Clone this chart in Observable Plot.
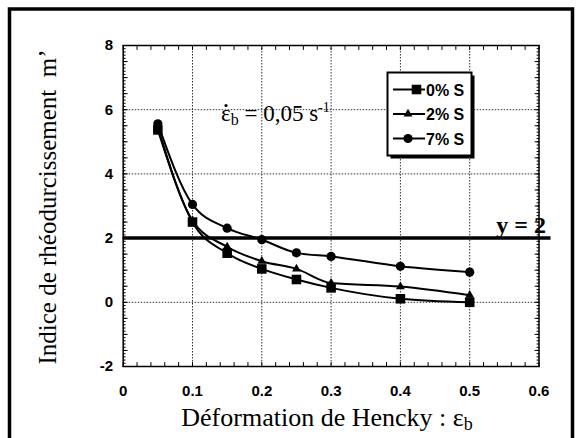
<!DOCTYPE html>
<html><head><meta charset="utf-8">
<script src="https://cdn.jsdelivr.net/npm/d3@7"></script>
<script src="https://cdn.jsdelivr.net/npm/@observablehq/plot@0.6"></script>
<style>
body{margin:0;background:#fff;}
#chart{position:relative;width:576px;height:438px;overflow:hidden;background:#fff}
</style>
</head><body><div id="chart"></div>
<script>
// ---- data ----
const strain = [0.05, 0.1, 0.15, 0.2, 0.25, 0.3, 0.4, 0.5];
const s0 = [5.37, 2.5, 1.53, 1.04, 0.71, 0.45, 0.11, 0.0];
const s2 = [5.45, 2.55, 1.73, 1.28, 1.04, 0.6, 0.49, 0.22];
const s7 = [5.56, 3.05, 2.31, 1.95, 1.54, 1.43, 1.12, 0.94];
const seriesNames = ["0% S", "2% S", "7% S"];
const seriesSymbols = ["square", "triangle", "circle"];
const xTicks = [0, 0.1, 0.2, 0.3, 0.4, 0.5, 0.6];
const yTicks = [-2, 0, 2, 4, 6, 8];
const threshold = 2;
const rateLabel = "0,05";

const serif = "'Liberation Serif','Times New Roman',serif";
const sans = "'Liberation Sans',Arial,sans-serif";

const values = [s0, s2, s7];
const rows = seriesNames.flatMap((s, k) => strain.map((x, i) => ({x, y: values[k][i], s})));

const xMinor = d3.range(0, 0.6001, 0.02);
const yMinor = d3.range(-2, 8.001, 0.5);
const yFine = d3.range(-2, 8.001, 0.1);
const tickShape = {draw(ctx, l) { ctx.moveTo(0, 0); ctx.lineTo(0, -l); }};
const tk = (data, opts) => Plot.vector(data, {anchor: "start", shape: tickShape, stroke: "black", strokeWidth: 1, ...opts});

const dotR = {"0% S": 5.4, "2% S": 3.3, "7% S": 4.6};

const chart = Plot.plot({
  width: 576, height: 438,
  marginLeft: 122.7, marginRight: 37.5, marginTop: 45, marginBottom: 72,
  x: {domain: [0, 0.6]},
  y: {domain: [-2, 8]},
  symbol: {domain: seriesNames, range: seriesSymbols},
  style: {background: "transparent", overflow: "visible"},
  marks: [
    Plot.ruleX(xTicks.filter(d => d > 0 && d < 0.6), {stroke: "#333", strokeDasharray: "1.5,1.5", strokeWidth: 1}),
    Plot.ruleY(yTicks.filter(d => d > -2 && d < 8), {stroke: "#333", strokeDasharray: "1.5,1.5", strokeWidth: 1}),
    tk(xMinor, {x: d => d, frameAnchor: "bottom", rotate: 0, length: 4}),
    tk(xMinor, {x: d => d, frameAnchor: "top", rotate: 180, length: 4}),
    tk(yMinor, {y: d => d, frameAnchor: "left", rotate: 90, length: 4}),
    tk(yMinor, {y: d => d, frameAnchor: "right", rotate: -90, length: 4}),
    tk(yFine, {y: d => d, frameAnchor: "left", rotate: 90, length: 2}),
    tk(yFine, {y: d => d, frameAnchor: "right", rotate: -90, length: 2}),
    Plot.frame({stroke: "black", strokeWidth: 1.5}),
    Plot.axisX(xTicks, {anchor: "bottom", tickSize: 0, tickPadding: 19, label: null,
      tickFormat: d => d === 0 ? "0" : d.toFixed(1), fontSize: 15, fontWeight: "bold", fontFamily: sans}),
    Plot.axisY(yTicks, {anchor: "left", tickSize: 0, tickPadding: 10, label: null,
      tickFormat: d => String(d), fontSize: 15, fontWeight: "bold", fontFamily: sans}),
    Plot.ruleY([threshold], {stroke: "black", strokeWidth: 3.5, insetRight: -12}),
    Plot.text([threshold], {y: d => d, frameAnchor: "right", text: d => `y = ${d}`, textAnchor: "end",
      lineAnchor: "bottom", dx: 7, dy: -5, fontFamily: serif, fontWeight: "bold", fontSize: 24, fill: "black"}),
    Plot.line(rows, {x: "x", y: "y", z: "s", curve: "monotone-x", stroke: "black", strokeWidth: 2}),
    ...seriesNames.map(s => Plot.dot(rows.filter(d => d.s === s), {x: "x", y: "y", symbol: "s", r: dotR[s], fill: "black", stroke: "none"}))
  ]
});

const svg = d3.select(chart);
// outer figure border
svg.append("path").attr("d", "M9.5,448 V9 H572.5 V448").attr("fill", "none").attr("stroke", "black").attr("stroke-width", 3.5);

// y title
svg.append("text").attr("transform", "translate(56,207) rotate(-90)").attr("text-anchor", "middle")
  .attr("font-family", serif).attr("font-size", 25).attr("fill", "black")
  .text("Indice de rhéodurcissement  m’");

// x title
const xt = svg.append("text").attr("x", 327).attr("y", 426).attr("text-anchor", "middle")
  .attr("font-family", serif).attr("font-size", 26).attr("fill", "black");
xt.append("tspan").text("Déformation de Hencky : ε");
xt.append("tspan").attr("font-size", 18).attr("dy", 4).text("b");

// rate annotation (time-derivative dot drawn as a small circle above ε)
const an = svg.append("text").attr("x", 221).attr("y", 121).attr("text-anchor", "start")
  .attr("font-family", serif).attr("font-size", 23).attr("fill", "black");
an.append("tspan").text("ε");
an.append("tspan").attr("font-size", 16).attr("dy", 4).text("b");
an.append("tspan").attr("dy", -4).text(` = ${rateLabel} s`);
an.append("tspan").attr("font-size", 14).attr("dy", -9).text("-1");
svg.append("circle").attr("cx", 226).attr("cy", 105.5).attr("r", 1.6).attr("fill", "black");

// legend
const lg = svg.append("g").attr("text-anchor", "start");
lg.append("rect").attr("x", 390.5).attr("y", 75.5).attr("width", 84).attr("height", 83).attr("fill", "black");
lg.append("rect").attr("x", 387.5).attr("y", 72.5).attr("width", 84).attr("height", 83).attr("fill", "white").attr("stroke", "black").attr("stroke-width", 2);
const legY = [89.5, 114, 138.5];
const legMarkX = [416.5, 408, 408];
seriesNames.forEach((s, i) => {
  lg.append("line").attr("x1", 393).attr("x2", 425).attr("y1", legY[i]).attr("y2", legY[i]).attr("stroke", "black").attr("stroke-width", 2);
  const size = Math.PI * dotR[s] * dotR[s];
  const sym = {square: d3.symbolSquare, triangle: d3.symbolTriangle, circle: d3.symbolCircle}[seriesSymbols[i]];
  lg.append("path").attr("transform", `translate(${legMarkX[i]},${legY[i]})`).attr("d", d3.symbol(sym, size)()).attr("fill", "black");
  lg.append("text").attr("x", 426).attr("y", legY[i] + 6).attr("font-family", sans).attr("font-weight", "bold").attr("font-size", 16).attr("fill", "black").text(s);
});

document.getElementById("chart").appendChild(chart);
</script>
</body></html>
